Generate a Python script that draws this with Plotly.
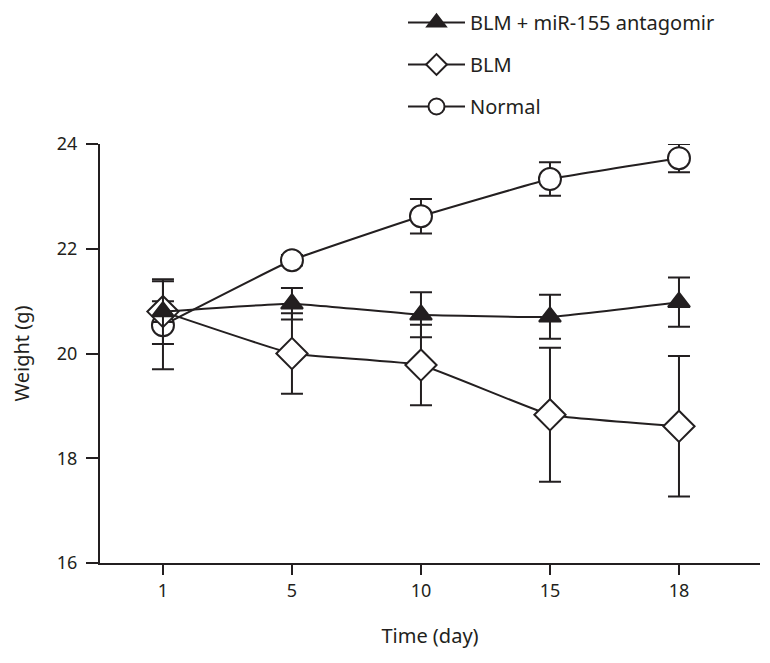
import plotly.graph_objects as go

days = ["1", "5", "10", "15", "18"]

antagomir_mean = [20.80, 20.95, 20.74, 20.70, 20.98]
antagomir_err = [0.62, 0.30, 0.43, 0.42, 0.47]

blm_mean = [20.80, 20.00, 19.78, 18.83, 18.61]
blm_err = [0.20, 0.77, 0.77, 1.28, 1.34]

normal_mean = [20.54, 21.78, 22.62, 23.33, 23.73]
normal_err = [0.84, 0.10, 0.33, 0.32, 0.27]

INK = "#231f20"
FONT = "Noto Sans"

fig = go.Figure()

def add(name, y, err, symbol, size, fill, rank):
    fig.add_trace(go.Scatter(
        x=days, y=y, name=name, mode="lines+markers",
        legendrank=rank, legendgroup=name,
        line=dict(color=INK, width=2, shape="spline", smoothing=0.3),
        marker=dict(symbol=symbol, size=size, color=fill,
                    line=dict(color=INK, width=2)),
        error_y=dict(type="data", array=err, visible=True,
                     color=INK, thickness=2, width=11),
        cliponaxis=False,
    ))

add("Normal", normal_mean, normal_err, "circle", 22, "white", 3)
add("BLM", blm_mean, blm_err, "diamond", 24, "white", 2)
add("BLM + miR-155 antagomir", antagomir_mean, antagomir_err, "triangle-up", 19, INK, 1)

W, H = 762, 655
L, R, T, B = 92, 10, 136, 100
PW = W - L - R
PH = H - T - B

fig.update_layout(
    width=W, height=H,
    margin=dict(l=L, r=R, t=T, b=B, autoexpand=False),
    paper_bgcolor="white", plot_bgcolor="white",
    font=dict(family=FONT, size=18, color=INK),
    showlegend=True,
    legend=dict(
        x=(395 - L) / PW, y=1 + (T + 5) / PH, xanchor="left", yanchor="top",
        traceorder="grouped", tracegroupgap=13, itemwidth=57,
        font=dict(family=FONT, size=20, color=INK),
        bgcolor="rgba(0,0,0,0)",
    ),
    xaxis=dict(
        type="category", range=[-0.488, 4.628],
        showline=True, linecolor=INK, linewidth=2,
        ticks="outside", ticklen=10, tickwidth=2, tickcolor=INK,
        showgrid=False, zeroline=False,
        title=dict(text="Time (day)", standoff=28,
                   font=dict(family=FONT, size=20, color=INK)),
        tickfont=dict(family=FONT, size=18, color=INK),
    ),
    yaxis=dict(
        range=[16, 24], tickvals=[16, 18, 20, 22, 24],
        showline=True, linecolor=INK, linewidth=2,
        ticks="outside", ticklen=12, tickwidth=2, tickcolor=INK,
        ticklabelstandoff=5,
        showgrid=False, zeroline=False,
        title=dict(text="Weight (g)", standoff=23,
                   font=dict(family=FONT, size=20, color=INK)),
        tickfont=dict(family=FONT, size=18, color=INK),
    ),
    shapes=[dict(type="line", xref="paper", yref="paper",
                 x0=-12 / PW, x1=0, y0=0, y1=0,
                 line=dict(color=INK, width=2))],
)

fig.write_html("out.html")
